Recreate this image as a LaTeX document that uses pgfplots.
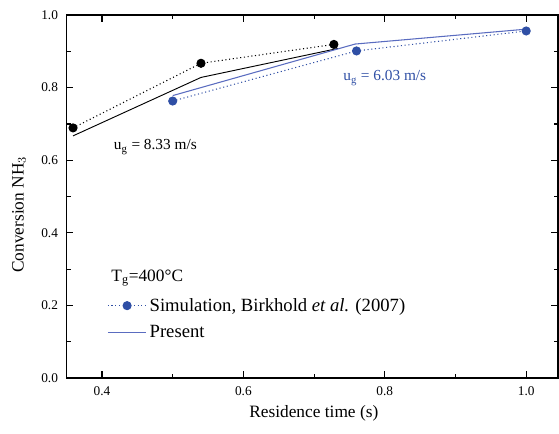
\documentclass[border=0pt]{standalone}
\usepackage{fontspec}
\setmainfont{Liberation Serif}
\usepackage{pgfplots}
\pgfplotsset{compat=1.18}
\definecolor{bdot}{HTML}{2F4FA5}
\definecolor{bline}{HTML}{5A6CC0}
\begin{document}
\begin{tikzpicture}
\useasboundingbox (-50pt,-41.25pt) rectangle (369.25pt,283.5pt);
\begin{axis}[
  scale only axis,
  width=368.5pt, height=272.25pt,
  xmin=0.35, xmax=1.045, ymin=0, ymax=1,
  xtick={0.4,0.6,0.8,1.0}, ytick={0,0.2,0.4,0.6,0.8,1.0},
  minor tick num=1,
  tick align=inside,
  major tick length=5pt, minor tick length=3pt,
  axis line style={line width=1.1pt},
  every tick/.style={line width=0.9pt, black},
  tick label style={font=\fontsize{10}{12}\selectfont},
  /pgf/number format/assume math mode=true,
  xticklabel style={/pgf/number format/fixed, /pgf/number format/fixed zerofill, /pgf/number format/precision=1, yshift=-3pt},
  yticklabel style={/pgf/number format/fixed, /pgf/number format/fixed zerofill, /pgf/number format/precision=1, xshift=-3pt},
  xlabel={Residence time (s)},
  ylabel={Conversion NH$_3$},
  label style={font=\fontsize{13}{15}\selectfont},
  xlabel style={at={(axis description cs:0.503,0)}, anchor=center, yshift=-26.25pt},
  ylabel style={at={(axis description cs:-0.097,0.45)}, anchor=center},
  legend style={draw=none, fill=none, at={(rel axis cs:0.082,0.228)}, anchor=north west,
    font=\fontsize{14}{16}\selectfont, row sep=5pt, inner sep=0pt},
  legend cell align=left,
  legend image code/.code={\draw[mark repeat=2,mark phase=2,#1] plot coordinates {(0pt,0pt) (14.5pt,0pt) (29pt,0pt)};},
]
% black: simulation (ug = 8.33)
\addplot[draw=black, dotted, line width=0.8pt, mark=*, mark size=3pt, mark options={solid, fill=black, draw=black}, forget plot]
  coordinates {(0.359,0.689) (0.540,0.867) (0.728,0.919)};
% black: present
\addplot[draw=black, line width=0.7pt, forget plot]
  coordinates {(0.359,0.667) (0.540,0.828) (0.734,0.908)};
% blue: simulation (ug = 6.03)
\addplot[draw=bdot, dotted, line width=0.8pt, mark=*, mark size=3pt, mark options={solid, fill=bdot, draw=bdot}]
  coordinates {(0.500,0.763) (0.760,0.901) (1.000,0.956)};
\addlegendentry{Simulation, Birkhold \textit{et al.} (2007)}
% blue: present
\addplot[draw=bline, line width=0.8pt]
  coordinates {(0.500,0.778) (0.758,0.920) (1.000,0.961)};
\addlegendentry{Present}
\node[font=\fontsize{11.5}{13}\selectfont, black] at (axis cs:0.4755,0.636) {u$_\mathrm{g}$ = 8.33 m/s};
\node[font=\fontsize{11.5}{13}\selectfont, bdot] at (axis cs:0.800,0.826) {u$_\mathrm{g}$ = 6.03 m/s};
\node[font=\fontsize{13}{15}\selectfont, anchor=west, inner sep=0pt] at (axis cs:0.413,0.276) {T$_\mathrm{g}$=400°C};
\end{axis}
\end{tikzpicture}
\end{document}
